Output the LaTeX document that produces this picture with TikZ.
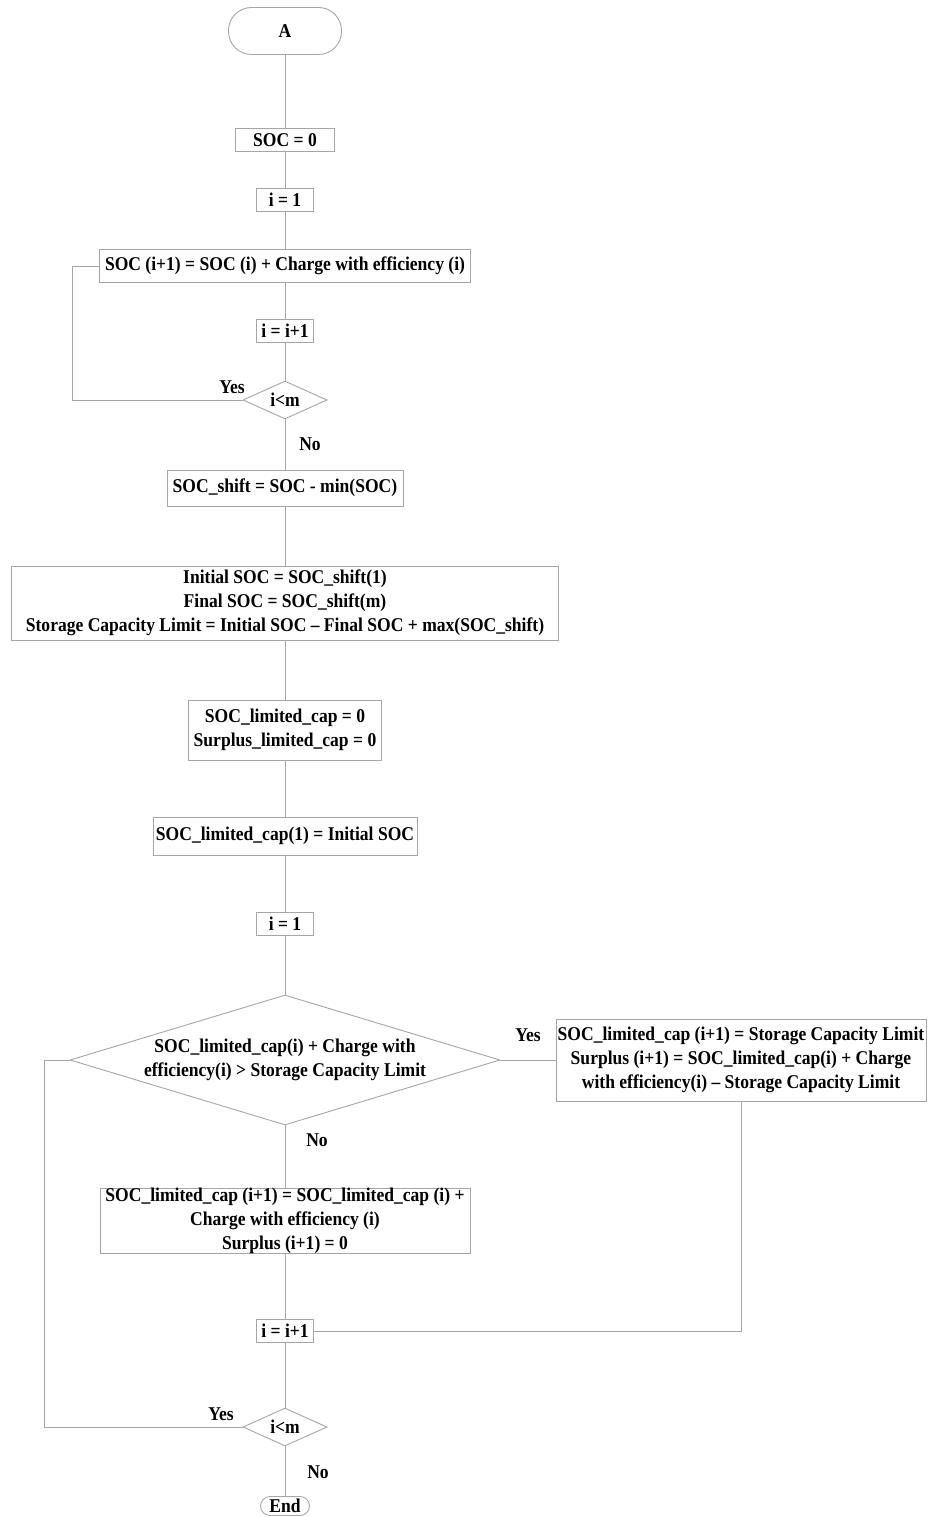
\documentclass[tikz,border=0pt]{standalone}
\usepackage{fontspec}
\setmainfont{Liberation Serif}[FakeStretch=0.9]
\usepackage{tikz}
\usetikzlibrary{positioning,shapes.geometric,calc}
\definecolor{linegray}{HTML}{A6A6A6}

\begin{document}
\begin{tikzpicture}[
  x=1pt,y=1pt,
  line width=0.9pt,
  every node/.style={font=\bfseries\fontsize{19.5}{24}\selectfont,text=black},
  box/.style={draw=linegray,rectangle,align=center,inner sep=0pt},
  term/.style={draw=linegray,rectangle,align=center,inner sep=0pt},
  cond/.style={draw=linegray,diamond,align=center,inner sep=0pt},
  lbl/.style={inner sep=0pt},
  ln/.style={draw=linegray}]
\useasboundingbox (0,0) rectangle (929,-1517);
\node[term,rounded corners=23pt,minimum width=113,minimum height=47] (start) at (285,-31) {A};
\node[box,minimum width=99,minimum height=23] (socz) at (285,-140) {SOC = 0};
\node[box,minimum width=57,minimum height=23] (ione) at (285,-200) {i = 1};
\node[box,minimum width=371,minimum height=33] (socnext) at (285,-266) {SOC (i+1) = SOC (i) + Charge with efficiency (i)};
\node[box,minimum width=57,minimum height=23] (inc) at (285,-331) {i = i+1};
\node[cond,minimum width=84,minimum height=38,aspect=2.2] (loop) at (285,-400) {i\textless m};
\node[box,minimum width=236,minimum height=36] (shift) at (285,-488) {SOC\_shift = SOC - min(SOC)};
\node[box,minimum width=547,minimum height=74] (limit) at (285,-603)
  {Initial SOC = SOC\_shift(1)\\Final SOC = SOC\_shift(m)\\Storage Capacity Limit = Initial SOC -- Final SOC + max(SOC\_shift)};
\node[box,minimum width=193,minimum height=60] (zero) at (285,-730) {SOC\_limited\_cap = 0\\Surplus\_limited\_cap = 0};
\node[box,minimum width=264,minimum height=38] (capone) at (285,-836) {SOC\_limited\_cap(1) = Initial SOC};
\node[box,minimum width=57,minimum height=23] (itwo) at (285,-924) {i = 1};
\node[cond,minimum width=430,minimum height=130,aspect=3.3] (over) at (285,-1060)
  {SOC\_limited\_cap(i) + Charge with\\efficiency(i) \textgreater{} Storage Capacity Limit};
\node[box,minimum width=370,minimum height=82] (full) at (741,-1060)
  {SOC\_limited\_cap (i+1) = Storage Capacity Limit\\Surplus (i+1) = SOC\_limited\_cap(i) + Charge\\with efficiency(i) -- Storage Capacity Limit};
\node[box,minimum width=370,minimum height=65] (notfull) at (285,-1221)
  {SOC\_limited\_cap (i+1) = SOC\_limited\_cap (i) +\\Charge with efficiency (i)\\Surplus (i+1) = 0};
\node[box,minimum width=57,minimum height=23] (inctwo) at (285,-1331) {i = i+1};
\node[cond,minimum width=84,minimum height=38,aspect=2.2] (looptwo) at (285,-1427) {i\textless m};
\node[term,rounded corners=9.5pt,minimum width=49,minimum height=19] (stop) at (285,-1506) {End};
\node[lbl] (yesa) at (232,-387) {Yes};
\node[lbl] (noa) at (310,-444) {No};
\node[lbl] (yesb) at (528,-1035) {Yes};
\node[lbl] (nob) at (317,-1140) {No};
\node[lbl] (yesc) at (221,-1414) {Yes};
\node[lbl] (noc) at (318,-1472) {No};
\coordinate (backa) at (72,-400);
\coordinate (backb) at (44,-1427);
\coordinate (drop) at (741,-1331);
\draw[ln] (start)--(socz);
\draw[ln] (socz)--(ione);
\draw[ln] (ione)--(socnext);
\draw[ln] (socnext)--(inc);
\draw[ln] (inc)--(loop);
\draw[ln] (loop.west)--(backa)|-(socnext.west);
\draw[ln] (loop)--(shift);
\draw[ln] (shift)--(limit);
\draw[ln] (limit)--(zero);
\draw[ln] (zero)--(capone);
\draw[ln] (capone)--(itwo);
\draw[ln] (itwo)--(over);
\draw[ln] (over.east)--(full.west);
\draw[ln] (over)--(notfull);
\draw[ln] (notfull)--(inctwo);
\draw[ln] (full.south)--(drop)--(inctwo.east);
\draw[ln] (inctwo)--(looptwo);
\draw[ln] (looptwo.west)--(backb)|-(over.west);
\draw[ln] (looptwo)--(stop);
\end{tikzpicture}
\end{document}
